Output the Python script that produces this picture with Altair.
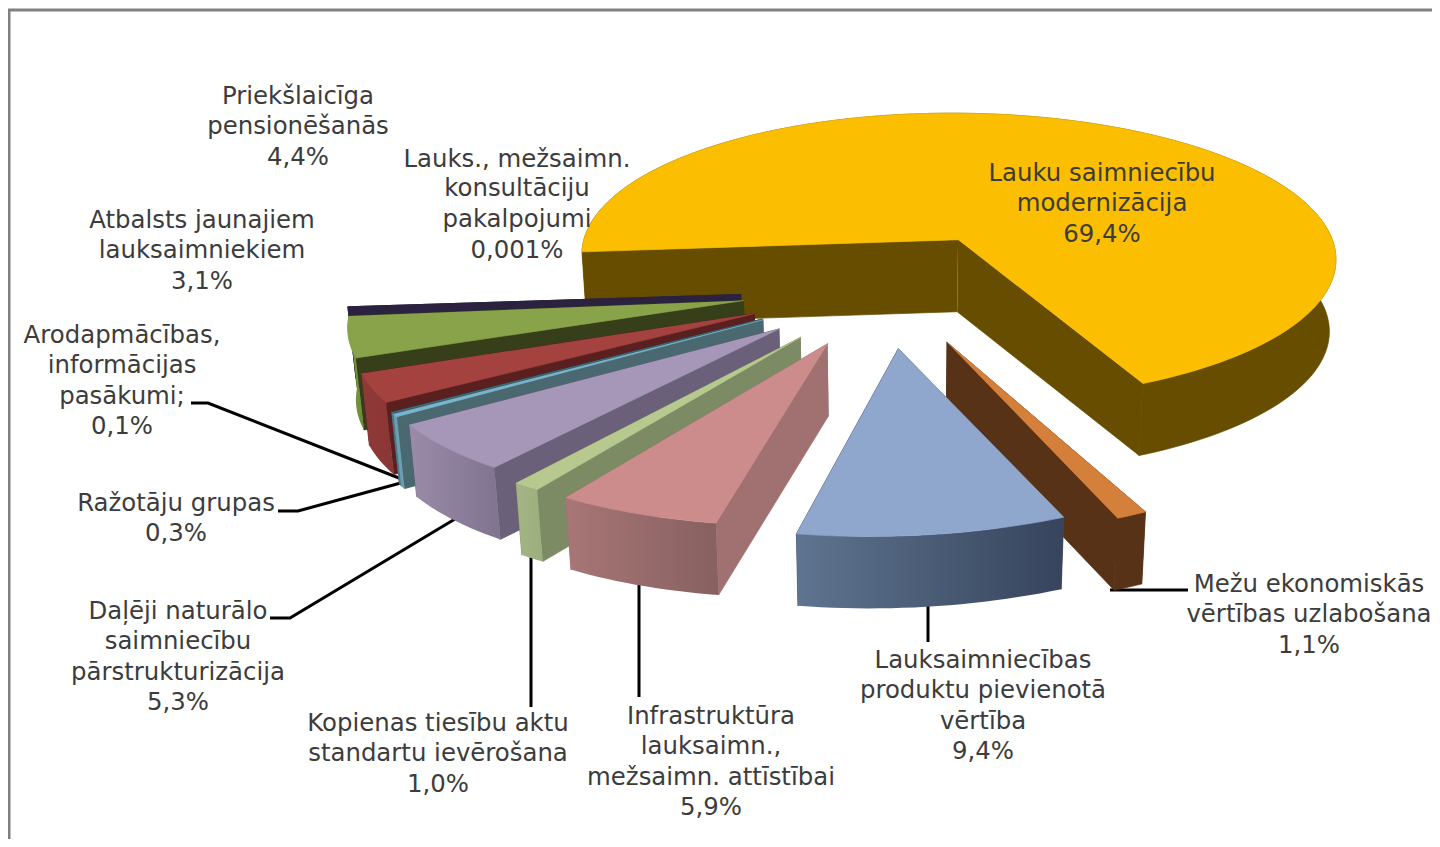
import math
import altair as alt
import pandas as pd

# ---- chart values, in the clockwise order of the pie ----
slice_names = ["Lauku saimniecību modernizācija", "Mežu ekonomiskās vērtības uzlabošana",
               "Lauksaimniecības produktu pievienotā vērtība", "Infrastruktūra lauksaimn., mežsaimn. attīstībai",
               "Kopienas tiesību aktu standartu ievērošana", "Daļēji naturālo saimniecību pārstrukturizācija",
               "Ražotāju grupas", "Arodapmācības, informācijas pasākumi",
               "Atbalsts jaunajiem lauksaimniekiem", "Priekšlaicīga pensionēšanās",
               "Lauks., mežsaimn. konsultāciju pakalpojumi"]
slice_values = [69.4, 1.1, 9.4, 5.9, 1.0, 5.3, 0.3, 0.1, 3.1, 4.4, 0.001]

top_colors = ["#fbbe00", "#d47f3a", "#8fa6cd", "#cd8c8c", "#b7c98e", "#a696b8", "#7ab5cb", "#3f6f80", "#a44240", "#88a34a", "#2b2240"]
wall_colors = ["#664d00", "#573216", "#3a4a63", "#a07170", "#7d8b65", "#6a6079", "#4a6870", "#2f4f5a", "#5a1f1f", "#363f1a", "#2b2240"]
outer_left = ["#664d00", "#573216", "#5f7490", "#a87676", "#a3b585", "#9a8ca8", "#6a9eb0", "#4f7f90", "#8f3a38", "#7d9a40", "#2b2240"]
outer_right = ["#664d00", "#573216", "#36445c", "#876060", "#9cae7e", "#807390", "#6a9eb0", "#4f7f90", "#8a3634", "#6f8a38", "#2b2240"]

# paint order, back to front
paint_order = [0, 10, 9, 8, 7, 6, 5, 4, 3, 1, 2]

# ---- text ----
label_blocks = [
    (["Priekšlaicīga", "pensionēšanās", "4,4%"], 298, [96, 126, 157]),
    (["Lauks.,  mežsaimn.", "konsultāciju", "pakalpojumi", "0,001%"], 517, [159, 188, 219, 250]),
    (["Atbalsts jaunajiem", "lauksaimniekiem", "3,1%"], 202, [220, 250, 281]),
    (["Arodapmācības,", "informācijas", "pasākumi;", "0,1%"], 122, [335, 365, 396, 426]),
    (["Ražotāju grupas", "0,3%"], 176, [503, 533]),
    (["Daļēji naturālo", "saimniecību", "pārstrukturizācija", "5,3%"], 178, [611, 641, 672, 702]),
    (["Kopienas tiesību aktu", "standartu ievērošana", "1,0%"], 438, [723, 753, 784]),
    (["Infrastruktūra", "lauksaimn.,", "mežsaimn. attīstībai", "5,9%"], 711, [716, 746, 777, 807]),
    (["Lauksaimniecības", "produktu pievienotā", "vērtība", "9,4%"], 983, [660, 690, 721, 751]),
    (["Mežu ekonomiskās", "vērtības uzlabošana", "1,1%"], 1309, [584, 614, 645]),
    (["Lauku saimniecību", "modernizācija", "69,4%"], 1102, [173, 203, 234]),
]

leader_paths = [
    [(191, 403), (208, 403), (404, 480)],
    [(278, 511), (298, 511), (408, 481)],
    [(270, 618), (290, 618), (460, 516)],
    [(531, 707), (531, 540)],
    [(639, 697), (639, 570)],
    [(928, 642), (928, 590)],
    [(1188, 590), (1110, 590)],
]
frame_path = [(9, 847), (9, 10), (1440, 10)]

# ---- 3-D view of the pie ----
PX, Y0, K = 1100.0, 300.0, 0.0008   # vanishing centre and perspective strength
CX, CY = 887.0, 272.5               # pie centre
EX, EY = 146.0, 74.0                # explosion reach
RX, RY = 390.0, 150.0               # slice radius
DEPTH = 72.0
TAPER_X, TAPER = 900.0, 0.015       # lower rim shrinks towards this x
YELLOW_RX, YELLOW_RY, YELLOW_EY, YELLOW_SHEAR = 394.0, 156.0, 40.0, 10.0
FIRST_END = 151.3                   # clockwise angle where the first slice ends

# per slice fine placement: apex dx, apex dy, rim dx, rim dy
placement = [
    (-1, 0, -1, 0),     # yellow
    (-1, 2, -1, 11),    # orange
    (-1, 1, -1, 3),     # blue
    (-1, 0, -2, -1),    # pink
    (0, 1, -1, 0),      # olive
    (0, 2, -3, -3),     # purple
    (-1, 3, -1, 0),     # teal
    (-1, 3, -1, 0),     # 0,1 %
    (-2, 4, -3, -2),    # red
    (-3, 7, -3, 0),     # green
    (-3, 11, -5, 1),    # navy
]


def project(wx, wy, z=0.0):
    w = 1.0 / (1.0 - K * (wy - Y0))
    sx = PX + (wx - PX) * w
    if z:
        sx += (TAPER_X - sx) * TAPER
    return sx, Y0 + (wy - Y0) * w + z


def unit(deg):
    a = math.radians(deg)
    return math.sin(a), -math.cos(a)


total = sum(slice_values)
spans = []
start = FIRST_END - slice_values[0] / total * 360.0
for v in slice_values:
    end = start + v / total * 360.0
    spans.append((start, end))
    start = end

SCALE_X = alt.Scale(domain=[8, 1432], range=[0, 1424], nice=False, zero=False)
SCALE_Y = alt.Scale(domain=[839, 8], range=[831, 0], nice=False, zero=False)


def polygon(points, fill, edge=True):
    df = pd.DataFrame({"x": [p[0] for p in points], "y": [p[1] for p in points], "i": list(range(len(points)))})
    if edge:
        mark = alt.Chart(df).mark_line(filled=True, fill=fill, stroke=fill, strokeWidth=0.7)
    else:
        mark = alt.Chart(df).mark_line(filled=True, fill=fill, strokeOpacity=0)
    return mark.encode(
        x=alt.X("x:Q", scale=SCALE_X, axis=None),
        y=alt.Y("y:Q", scale=SCALE_Y, axis=None),
        order="i:Q",
    )


def polyline(points, color, width):
    df = pd.DataFrame({"x": [p[0] for p in points], "y": [p[1] for p in points], "i": list(range(len(points)))})
    return alt.Chart(df).mark_line(color=color, strokeWidth=width, clip=True).encode(
        x=alt.X("x:Q", scale=SCALE_X, axis=None),
        y=alt.Y("y:Q", scale=SCALE_Y, axis=None),
        order="i:Q",
    )


layers = [polyline(frame_path, "#808080", 3)]
for path in leader_paths:
    layers.append(polyline(path, "#000000", 3))

for idx in paint_order:
    a0, a1 = spans[idx]
    mid = (a0 + a1) / 2
    ux, uy = unit(mid)
    rx = YELLOW_RX if idx == 0 else RX
    ry = YELLOW_RY if idx == 0 else RY
    ey = YELLOW_EY if idx == 0 else EY
    shear = YELLOW_SHEAR if idx == 0 else 0.0
    adx, ady, rdx, rdy = placement[idx]
    ax, ay = CX + EX * ux, CY + ey * uy

    n = max(2, int((a1 - a0) / 1.5) + 2)
    arc_world = []
    for j in range(n):
        th = a0 + (a1 - a0) * j / (n - 1)
        tx, ty = unit(th)
        arc_world.append((ax + rdx + rx * tx, ay + rdy + ry * ty + shear * tx))
    arc_top = [project(*p) for p in arc_world]
    arc_bot = [project(*p, DEPTH) for p in arc_world]
    apex_top = project(ax + adx, ay + ady)
    apex_bot = project(ax + adx, ay + ady, DEPTH)

    layers.append(polygon([apex_top, arc_top[0], arc_bot[0], apex_bot], wall_colors[idx]))
    layers.append(polygon([apex_top, arc_top[-1], arc_bot[-1], apex_bot], wall_colors[idx]))
    if outer_left[idx] == outer_right[idx]:
        layers.append(polygon(arc_top + arc_bot[::-1], outer_left[idx]))
    else:
        grad = alt.Gradient(gradient="linear", x1=0, x2=1, y1=0, y2=0,
                            stops=[alt.GradientStop(offset=0, color=outer_left[idx]),
                                   alt.GradientStop(offset=1, color=outer_right[idx])])
        layers.append(polygon(arc_top + arc_bot[::-1], grad, edge=False))
    layers.append(polygon([apex_top] + arc_top, top_colors[idx]))

rows = []
for lines, cx, ys in label_blocks:
    for t, y in zip(lines, ys):
        rows.append({"t": t, "x": cx, "y": y})
text = alt.Chart(pd.DataFrame(rows)).mark_text(
    font="DejaVu Sans", fontSize=24.4, color="#3c3c3c", align="center", baseline="middle", dy=1
).encode(
    x=alt.X("x:Q", scale=SCALE_X, axis=None),
    y=alt.Y("y:Q", scale=SCALE_Y, axis=None),
    text="t:N",
)
layers.append(text)

chart = alt.layer(*layers).properties(
    width=1424, height=831, padding=0, background="#ffffff",
    autosize=alt.AutoSizeParams(type="none"),
).configure_view(strokeWidth=0)

chart.save("out.html", embed_options={"renderer": "svg", "actions": False})
